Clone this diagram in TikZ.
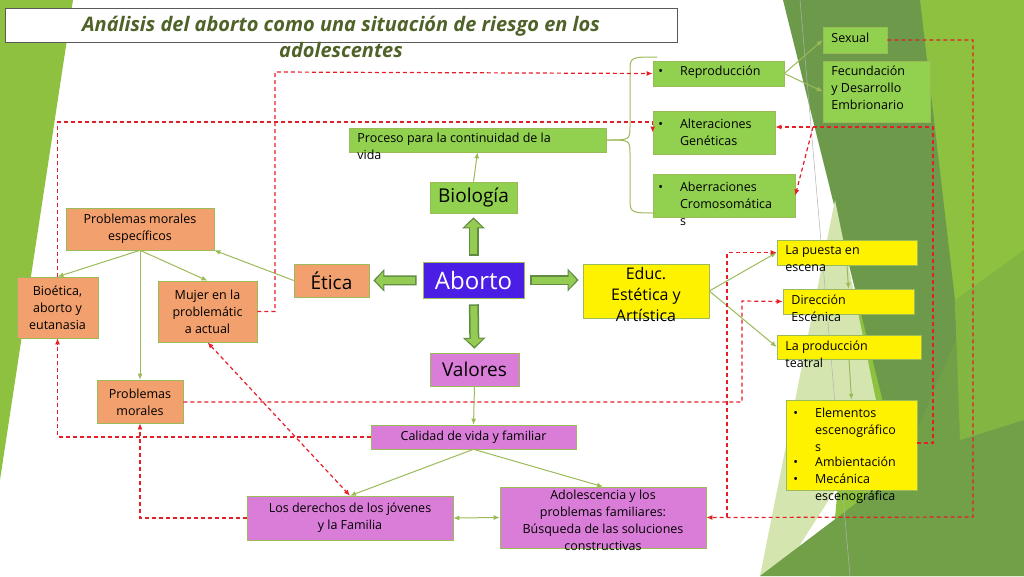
\documentclass[tikz,border=0pt]{standalone}
\usepackage{fontspec}
\setmainfont{Open Sans}
\usetikzlibrary{arrows.meta}
\definecolor{leafgreen}{RGB}{146,208,80}
\definecolor{olive}{RGB}{155,187,89}
\definecolor{darkleaf}{RGB}{108,154,74}
\definecolor{brightleaf}{RGB}{141,193,63}
\definecolor{paleleaf}{RGB}{212,229,176}
\definecolor{peach}{RGB}{241,160,110}
\definecolor{orchid}{RGB}{218,125,216}
\definecolor{violetblue}{RGB}{75,30,230}
\definecolor{linkred}{RGB}{230,30,40}
\definecolor{titlegreen}{RGB}{79,98,40}
\tikzset{every picture/.style={line width=0.75pt}}
\tikzset{
  box/.style={draw=olive, line width=0.6pt, inner sep=0pt},
  greenbox/.style={box, fill=leafgreen},
  peachbox/.style={box, fill=peach},
  pinkbox/.style={box, fill=orchid},
  yellowbox/.style={box, fill=yellow},
  txt/.style={inner sep=0pt, yshift=-2.5pt, font=\fontsize{12.5}{17}\selectfont, align=left, anchor=north west},
  ctxt/.style={inner sep=0pt, font=\fontsize{12.5}{17}\selectfont, align=center},
  link/.style={olive, line width=1pt, -{Latex[length=6pt,width=5pt]}},
  blockout/.style={line width=10pt, draw=darkleaf!90!black, shorten <=6pt, shorten >=4pt, -{Triangle[length=11pt,width=22pt]}},
  blockin/.style={line width=7pt, draw=leafgreen!75!olive, shorten <=7.5pt, shorten >=6pt, -{Triangle[length=8pt,width=17pt]}},
  redlink/.style={linkred, dash pattern=on 4pt off 3pt, line width=1.2pt, -{Latex[length=6pt,width=5pt]}},
}

\begin{document}
\begin{tikzpicture}[x=1pt,y=1pt,yscale=-1]
\useasboundingbox (0,0) rectangle (1024,576);

% background
\fill[brightleaf] (0,0) -- (73,0) -- (0,480) -- cycle;
\fill[brightleaf] (880,0) -- (1024,0) -- (1024,576) -- (830,576) -- cycle;
\fill[darkleaf] (783,0) -- (920,0) -- (955,300) -- (960,440) -- (900,470) -- cycle;
\fill[paleleaf] (835,200) -- (880,420) -- (780,576) -- (760,576) -- cycle;
\fill[darkleaf!85!brightleaf] (960,330) -- (1024,300) -- (1024,576) -- (760,576) -- (900,470) -- cycle;
\fill[brightleaf!70!darkleaf] (955,300) -- (1024,250) -- (1024,420) -- (960,440) -- cycle;
\draw[gray!60, line width=0.5pt] (800,0) -- (850,576);

% title
\draw[gray!70!black, fill=white] (5,8) rectangle (677,42);
\node[inner sep=0pt, align=center, font=\fontsize{20}{26}\selectfont\bfseries\itshape, text=titlegreen] (title) at (341,37)
  {Análisis del aborto como una situación de riesgo en los\\adolescentes};

% center
\node[box, fill=violetblue, minimum width=101pt, minimum height=36pt, text=white, font=\fontsize{24}{28}\selectfont] (aborto) at (473.5,280) {Aborto};
\node[greenbox, minimum width=87pt, minimum height=31pt, font=\fontsize{19}{22}\selectfont] (bio) at (473.5,197.5) {Biología};
\node[peachbox, minimum width=75pt, minimum height=33pt, font=\fontsize{19}{22}\selectfont] (etica) at (331.5,280.5) {Ética};
\node[pinkbox, minimum width=89pt, minimum height=33pt, font=\fontsize{19}{22}\selectfont] (valores) at (474.5,369.5) {Valores};
\node[yellowbox, minimum width=126pt, minimum height=54pt] (educ) at (646,291) {};
\node[inner sep=0pt, align=center, font=\fontsize{16}{21}\selectfont, anchor=north] (educt) at (646,267) {Educ.\\Estética y\\Artística};

% biologia
\node[greenbox, minimum width=257pt, minimum height=24pt] (proceso) at (477.5,140) {};
\node[txt] (procesot) at (357,130) {Proceso para la continuidad de la\\vida};
\node[greenbox, minimum width=131pt, minimum height=25pt] (repro) at (718.5,73.5) {};
\node[txt] (reprot) at (658,63) {•\hspace{17pt}Reproducción};
\node[greenbox, minimum width=122pt, minimum height=43pt] (alter) at (714,132.5) {};
\node[txt] (altert) at (658,114) {•\hspace{17pt}\begin{tabular}[t]{@{}l@{}}Alteraciones\\Genéticas\end{tabular}};
\node[greenbox, minimum width=142pt, minimum height=43pt] (aberr) at (724,195.5) {};
\node[txt] (aberrt) at (658,177) {•\hspace{17pt}\begin{tabular}[t]{@{}l@{}}Aberraciones\\Cromosomática\\s\end{tabular}};
\node[greenbox, minimum width=64pt, minimum height=26pt] (sexual) at (855,40) {};
\node[txt] (sexualt) at (831,30) {Sexual};
\node[greenbox, minimum width=107pt, minimum height=61pt] (fecund) at (876.5,91.5) {};
\node[txt] (fecundt) at (831,63) {Fecundación\\y Desarrollo\\Embrionario};

% etica
\node[peachbox, minimum width=148pt, minimum height=42pt] (pme) at (140,229) {};
\node[ctxt] (pmet) at (140,229) {Problemas morales\\específicos};
\node[peachbox, minimum width=81pt, minimum height=61pt] (bioet) at (57.5,307.5) {};
\node[ctxt] (bioett) at (57.5,308) {Bioética,\\aborto y\\eutanasia};
\node[peachbox, minimum width=99pt, minimum height=61pt] (mujer) at (207.5,311.5) {};
\node[ctxt] (mujert) at (207.5,312) {Mujer en la\\problemátic\\a actual};
\node[peachbox, minimum width=86pt, minimum height=43pt] (pmor) at (140,401.5) {};
\node[ctxt] (pmort) at (140,402) {Problemas\\morales};

% valores
\node[pinkbox, minimum width=205pt, minimum height=24pt] (calidad) at (473.5,437) {};
\node[ctxt] (calidadt) at (473.5,437) {Calidad de vida y familiar};
\node[pinkbox, minimum width=206pt, minimum height=44pt] (derechos) at (350,518) {};
\node[ctxt] (derechost) at (350,518) {Los derechos de los jóvenes\\y la Familia};
\node[pinkbox, minimum width=206pt, minimum height=61pt] (adol) at (603,517.5) {};
\node[ctxt, anchor=north] (adolt) at (603,490) {Adolescencia y los\\problemas familiares:\\Búsqueda de las soluciones\\constructivas};

% educ
\node[yellowbox, minimum width=140pt, minimum height=25pt] (puesta) at (847,252.5) {};
\node[txt] (puestat) at (785,243) {La puesta en\\escena};
\node[yellowbox, minimum width=131pt, minimum height=25pt] (direcc) at (848.5,301.5) {};
\node[txt] (direcct) at (791,292) {Dirección\\Escénica};
\node[yellowbox, minimum width=144pt, minimum height=24pt] (produc) at (849,347) {};
\node[txt] (product) at (785,338) {La producción\\teatral};
\node[yellowbox, minimum width=131pt, minimum height=90pt] (elem) at (851.5,445) {};
\node[txt] (elemt) at (793,403) {•\hspace{17pt}\begin{tabular}[t]{@{}l@{}}Elementos\\escenográfico\\s\end{tabular}\\[-1pt]•\hspace{17pt}Ambientación\\•\hspace{17pt}\begin{tabular}[t]{@{}l@{}}Mecánica\\escenográfica\end{tabular}};

% block arrows
\foreach \dest in {bio.south, etica.east, valores.north}{
  \draw[blockout] (aborto) -- (\dest);
  \draw[blockin] (aborto) -- (\dest);
}
\draw[blockout, shorten <=0pt] ([xshift=6pt]aborto.east) -- (educ.west |- aborto.east);
\draw[blockin, shorten <=0pt] ([xshift=7.5pt]aborto.east) -- (educ.west |- aborto.east);

% green links
\draw[link] (bio.north) -- (proceso.south);
\draw[link] (etica.west) -- (pme.south east);
\draw[link] (pme.south) -- (bioet.north);
\draw[link] (pme.south) -- (mujer.north);
\draw[link] (pme.south) -- (pmor.north);
\draw[link] (valores.south) -- (calidad.north);
\draw[link] (calidad.south) -- (derechos.north);
\draw[link] (calidad.south) -- (adol.north);
\draw[link, {Latex[length=6pt,width=5pt]}-{Latex[length=6pt,width=5pt]}] (derechos.east) -- (adol.west);
\draw[link] (educ.east) -- (puesta.west);
\draw[link] (educ.east) -- (produc.west);
\draw[link] (puesta.south) -- (direcc.north);
\draw[link] (produc.south) -- (elem.north);
\draw[link] (repro.east) -- (sexual.west);
\draw[link] (repro.east) -- (fecund.west);
% brace
\draw[olive, line width=1pt] (657,57) .. controls (630,57) .. (630,72) -- (630,126) .. controls (630,140) .. (proceso.east);
\draw[olive, line width=1pt] (657,213) .. controls (630,213) .. (630,198) -- (630,154) .. controls (630,140) .. (proceso.east);

% red links
\draw[redlink] (mujer.east) -| (275,72) -- (repro.west);
\draw[redlink] (calidad.west) -| (bioet.south);
\draw[redlink] (bioet.north) |- (alter.west |- 0,122) -- (alter.west);
\draw[redlink] (derechos.west) -| (pmor.south);
\draw[redlink, {Latex[length=6pt,width=5pt]}-{Latex[length=6pt,width=5pt]}] (mujer.south) -- (derechos.north);
\draw[redlink] (pmor.east |- 0,402) -| (742,301) -- (direcc.west);
\draw[redlink] (sexual.east) -| (973,517) -- (adol.east);
\draw[redlink] (727,517) |- (puesta.west);
\draw[redlink] (elem.east |- 0,443) -| (933,127) -- (alter.east |- 0,127);
\draw[redlink] (813,127) -- (aberr.east);
\end{tikzpicture}
\end{document}
